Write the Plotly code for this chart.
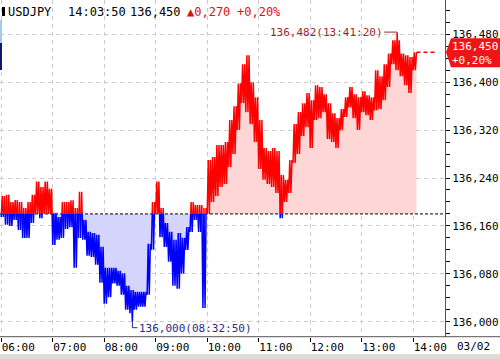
import plotly.graph_objects as go

# ---------------- data ----------------
symbol = "USDJPY"
prev_close = 136.180
last_time = "14:03:50"
last_price = 136.450
max_time, max_price = "13:41:20", 136.482
min_time, min_price = "08:32:50", 136.000
date_label = "03/02"

bin_times = ["06:00", "06:05", "06:10", "06:15", "06:20", "06:25", "06:30", "06:35", "06:40", "06:45",
             "06:50", "06:55", "07:00", "07:05", "07:10", "07:15", "07:20", "07:25", "07:30", "07:35",
             "07:40", "07:45", "07:50", "07:55", "08:00", "08:05", "08:10", "08:15", "08:20", "08:25",
             "08:30", "08:35", "08:40", "08:45", "08:50", "08:55", "09:00", "09:05", "09:10", "09:15",
             "09:20", "09:25", "09:30", "09:35", "09:40", "09:45", "09:50", "09:55", "10:00", "10:05",
             "10:10", "10:15", "10:20", "10:25", "10:30", "10:35", "10:40", "10:45", "10:50", "10:55",
             "11:00", "11:05", "11:10", "11:15", "11:20", "11:25", "11:30", "11:35", "11:40", "11:45",
             "11:50", "11:55", "12:00", "12:05", "12:10", "12:15", "12:20", "12:25", "12:30", "12:35",
             "12:40", "12:45", "12:50", "12:55", "13:00", "13:05", "13:10", "13:15", "13:20", "13:25",
             "13:30", "13:35", "13:40", "13:45", "13:50", "13:55", "14:00"]
bin_low = [136.175, 136.162, 136.160, 136.170, 136.153, 136.140, 136.140, 136.165, 136.180, 136.173,
           136.180, 136.180, 136.128, 136.137, 136.140, 136.155, 136.158, 136.090, 136.140, 136.137,
           136.110, 136.108, 136.095, 136.065, 136.030, 136.041, 136.064, 136.060, 136.045, 136.020,
           136.014, 136.020, 136.025, 136.025, 136.045, 136.120, 136.180, 136.141, 136.125, 136.100,
           136.060, 136.055, 136.080, 136.120, 136.150, 136.170, 136.150, 136.023, 136.180, 136.200,
           136.210, 136.225, 136.230, 136.258, 136.280, 136.320, 136.365, 136.350, 136.330, 136.300,
           136.255, 136.237, 136.230, 136.225, 136.215, 136.173, 136.200, 136.215, 136.265, 136.280,
           136.310, 136.325, 136.290, 136.337, 136.340, 136.350, 136.305, 136.300, 136.290, 136.320,
           136.342, 136.358, 136.340, 136.320, 136.350, 136.345, 136.337, 136.353, 136.355, 136.370,
           136.392, 136.430, 136.420, 136.410, 136.395, 136.382, 136.420]
bin_high = [136.210, 136.212, 136.200, 136.203, 136.200, 136.190, 136.200, 136.212, 136.234, 136.225,
            136.234, 136.222, 136.182, 136.175, 136.200, 136.200, 136.203, 136.190, 136.217, 136.170,
            136.150, 136.148, 136.145, 136.125, 136.090, 136.090, 136.090, 136.085, 136.081, 136.060,
            136.053, 136.050, 136.050, 136.050, 136.130, 136.200, 136.234, 136.190, 136.165, 136.150,
            136.137, 136.148, 136.140, 136.158, 136.200, 136.195, 136.195, 136.190, 136.270, 136.275,
            136.295, 136.295, 136.300, 136.337, 136.360, 136.398, 136.430, 136.445, 136.400, 136.375,
            136.337, 136.290, 136.285, 136.290, 136.285, 136.245, 136.237, 136.270, 136.330, 136.350,
            136.365, 136.382, 136.370, 136.395, 136.392, 136.380, 136.365, 136.348, 136.340, 136.355,
            136.375, 136.392, 136.380, 136.375, 136.385, 136.378, 136.375, 136.420, 136.410, 136.430,
            136.448, 136.470, 136.470, 136.448, 136.445, 136.442, 136.450]

x_tick_labels = ["06:00", "07:00", "08:00", "09:00", "10:00", "11:00", "12:00", "13:00", "14:00"]
y_tick_values = [136.000, 136.080, 136.160, 136.240, 136.320, 136.400, 136.480]

# ---------------- helpers ----------------
X_RANGE = [5.9767, 14.6175]
Y_RANGE = [135.97445, 136.53729]
PLOT_W, PLOT_H = 445.0, 337.0
VPP = (Y_RANGE[1] - Y_RANGE[0]) / PLOT_H
FONT = "DejaVu Sans Mono"
SWINGS_PER_BIN = 2  # low/high swings drawn inside each 5-minute bin


def hours(s):
    parts = [int(p) for p in s.split(":")]
    while len(parts) < 3:
        parts.append(0)
    return parts[0] + parts[1] / 60 + parts[2] / 3600


def fmt(v, nd=3):
    return f"{v:.{nd}f}".replace(".", ",")


def px(xp):
    return xp / PLOT_W


def py(yp):
    return (PLOT_H - yp) / PLOT_H


# build the tick path (low/high swings per bin) plus the labelled extremes
pts = []
step = 5.0 / 60 / (2 * SWINGS_PER_BIN)
for t, lo, hi in zip(bin_times, bin_low, bin_high):
    h = hours(t)
    for j in range(SWINGS_PER_BIN):
        pts.append((h + (2 * j) * step, lo))
        pts.append((h + (2 * j + 1) * step, hi))
pts.append((hours(max_time), max_price))
pts.append((hours(min_time), min_price))
pts.append((hours(last_time), last_price))
pts.sort()

base = prev_close
red_x, red_y, blue_x, blue_y = [], [], [], []
fill_x, fill_y = [pts[0][0]], [pts[0][1]]


def add_seg(xs, ys, p0, p1):
    if xs and xs[-1] == p0[0] and ys[-1] == p0[1]:
        xs.append(p1[0]); ys.append(p1[1])
    else:
        if xs:
            xs.append(None); ys.append(None)
        xs.extend([p0[0], p1[0]]); ys.extend([p0[1], p1[1]])


for (t0, v0), (t1, v1) in zip(pts[:-1], pts[1:]):
    a0, a1 = v0 >= base, v1 >= base
    if a0 == a1:
        if a0:
            add_seg(red_x, red_y, (t0, v0), (t1, v1))
        else:
            add_seg(blue_x, blue_y, (t0, v0), (t1, v1))
    else:
        tc = t0 + (base - v0) / (v1 - v0) * (t1 - t0)
        first = (red_x, red_y) if a0 else (blue_x, blue_y)
        second = (red_x, red_y) if a1 else (blue_x, blue_y)
        add_seg(*first, (t0, v0), (tc, base))
        add_seg(*second, (tc, base), (t1, v1))
        fill_x.append(tc); fill_y.append(base)
    fill_x.append(t1); fill_y.append(v1)

above = [max(v, base) for v in fill_y]
below = [min(v, base) for v in fill_y]

fig = go.Figure()
fig.add_trace(go.Scatter(x=fill_x, y=[base] * len(fill_x), mode="lines", line=dict(width=0),
                         hoverinfo="skip"))
fig.add_trace(go.Scatter(x=fill_x, y=above, mode="lines", line=dict(width=0), fill="tonexty",
                         fillcolor="#ffd6d6", hoverinfo="skip"))
fig.add_trace(go.Scatter(x=fill_x, y=[base] * len(fill_x), mode="lines", line=dict(width=0),
                         hoverinfo="skip"))
fig.add_trace(go.Scatter(x=fill_x, y=below, mode="lines", line=dict(width=0), fill="tonexty",
                         fillcolor="#d4d4fc", hoverinfo="skip"))
fig.add_trace(go.Scatter(x=X_RANGE, y=[base, base], mode="lines",
                         line=dict(color="black", width=1, dash="3px,2px"), hoverinfo="skip"))
fig.add_trace(go.Scatter(x=red_x, y=red_y, mode="lines", line=dict(color="#ff0000", width=1.5),
                         connectgaps=False))
fig.add_trace(go.Scatter(x=blue_x, y=blue_y, mode="lines", line=dict(color="#0000ff", width=1.5),
                         connectgaps=False))

shapes = []
# bottom axis line across the whole width and grey strip
shapes.append(dict(type="line", xref="paper", yref="paper", x0=0, x1=px(500), y0=py(336.7), y1=py(336.7),
                   line=dict(color="#555555", width=1)))
shapes.append(dict(type="rect", xref="paper", yref="paper", x0=0, x1=px(500), y0=py(354), y1=py(362),
                   fillcolor="#dcdcdc", line=dict(width=0)))
# left edge marker bars and header block
shapes.append(dict(type="rect", xref="paper", yref="paper", x0=0, x1=px(2), y0=py(43), y1=py(20),
                   fillcolor="#a8c8e8", line=dict(width=0)))
shapes.append(dict(type="rect", xref="paper", yref="paper", x0=0, x1=px(2), y0=py(70), y1=py(43),
                   fillcolor="#10186a", line=dict(width=0)))
shapes.append(dict(type="rect", xref="paper", yref="paper", x0=px(2), x1=px(5), y0=py(16), y1=py(7),
                   fillcolor="black", line=dict(width=0)))
# dashed extension of last price
shapes.append(dict(type="line", xref="x", yref="y", xsizemode="pixel", xanchor=hours(last_time),
                   x0=0, x1=20, y0=last_price, y1=last_price,
                   line=dict(color="#ff0000", width=1.5, dash="4px,3px")))
# max connector
mh = hours(max_time)
shapes.append(dict(type="line", xref="x", yref="y", xsizemode="pixel", xanchor=mh, x0=-13, x1=0,
                   ysizemode="pixel", yanchor=max_price, y0=1, y1=1, line=dict(color="#a0282d", width=1)))
shapes.append(dict(type="line", xref="x", yref="y", xsizemode="pixel", xanchor=mh, x0=0, x1=0,
                   ysizemode="pixel", yanchor=max_price, y0=1, y1=-2, line=dict(color="#a0282d", width=1)))
# min connector
nh = hours(min_time)
shapes.append(dict(type="line", xref="x", yref="y", xsizemode="pixel", xanchor=nh, x0=0, x1=0,
                   ysizemode="pixel", yanchor=min_price, y0=0, y1=-6, line=dict(color="#2b2b8c", width=1)))
shapes.append(dict(type="line", xref="x", yref="y", xsizemode="pixel", xanchor=nh, x0=0, x1=5,
                   ysizemode="pixel", yanchor=min_price, y0=-6, y1=-6, line=dict(color="#2b2b8c", width=1)))
# last price label box
L = last_price
box_path = (f"M {px(451)} {L + 14 * VPP} L {px(500)} {L + 14 * VPP} L {px(500)} {L - 15 * VPP} "
            f"L {px(451)} {L - 15 * VPP} L {px(446)} {L} Z")
shapes.append(dict(type="path", xref="paper", yref="y", path=box_path, fillcolor="#f01414",
                   line=dict(width=0)))

change = last_price - prev_close
pct = change / prev_close * 100
sign = "+" if change >= 0 else "-"
arrow = "▲" if change >= 0 else "▼"

ann = []


def header(text, xp, color="black"):
    ann.append(dict(text=text, xref="paper", yref="paper", x=px(xp), y=py(12), xanchor="left",
                    yanchor="middle", showarrow=False, font=dict(family=FONT, size=12, color=color)))


header(symbol, 6)
header(last_time, 66)
header(fmt(last_price), 128)
header(f"{arrow}{fmt(abs(change))}", 185, "#e01010")
header(f"{sign}{fmt(abs(pct), 2)}%", 235, "#e01010")

ann.append(dict(text=f"{fmt(max_price)}({max_time})", xref="x", yref="y", x=mh, y=max_price,
                xanchor="right", yanchor="middle", xshift=-12, yshift=1, showarrow=False,
                font=dict(family=FONT, size=11, color="#a0282d")))
ann.append(dict(text=f"{fmt(min_price)}({min_time})", xref="x", yref="y", x=nh, y=min_price,
                xanchor="left", yanchor="middle", xshift=5, yshift=-7, showarrow=False,
                font=dict(family=FONT, size=11, color="#2b2b8c")))
ann.append(dict(text=fmt(last_price), xref="paper", yref="y", x=px(450), y=L, yshift=5.5,
                xanchor="left", yanchor="middle", showarrow=False,
                font=dict(family=FONT, size=11, color="white")))
ann.append(dict(text=f"{sign}{fmt(abs(pct), 2)}%", xref="paper", yref="y", x=px(450), y=L, yshift=-8,
                xanchor="left", yanchor="middle", showarrow=False,
                font=dict(family=FONT, size=11, color="white")))
ann.append(dict(text=date_label, xref="paper", yref="paper", x=px(455), y=py(346), xanchor="left",
                yanchor="middle", showarrow=False, font=dict(family=FONT, size=11, color="black")))

fig.update_layout(
    width=500, height=359, autosize=False,
    margin=dict(l=0, r=55, t=0, b=22, pad=0),
    plot_bgcolor="white", paper_bgcolor="white", showlegend=False,
    font=dict(family=FONT, size=11, color="black"),
    shapes=shapes, annotations=ann,
    xaxis=dict(range=X_RANGE, tickvals=[hours(t) for t in x_tick_labels], ticktext=x_tick_labels,
               ticks="outside", ticklen=4, tickcolor="black", ticklabelposition="outside right",
               showgrid=True, gridcolor="#cccccc", griddash="4px,4px", gridwidth=1,
               showline=False, zeroline=False, fixedrange=True,
               tickfont=dict(family=FONT, size=11, color="black")),
    yaxis=dict(range=Y_RANGE, side="right", tickvals=y_tick_values,
               ticktext=[fmt(v) for v in y_tick_values],
               ticks="outside", ticklen=4, tickcolor="black",
               minor=dict(dtick=0.02, tick0=136.0, ticks="outside", ticklen=4, tickcolor="black",
                          showgrid=False),
               showgrid=True, gridcolor="#cccccc", griddash="4px,4px", gridwidth=1,
               showline=True, linecolor="#555555", linewidth=1, zeroline=False, fixedrange=True,
               tickfont=dict(family=FONT, size=11, color="black")),
)

fig.write_html("out.html")
